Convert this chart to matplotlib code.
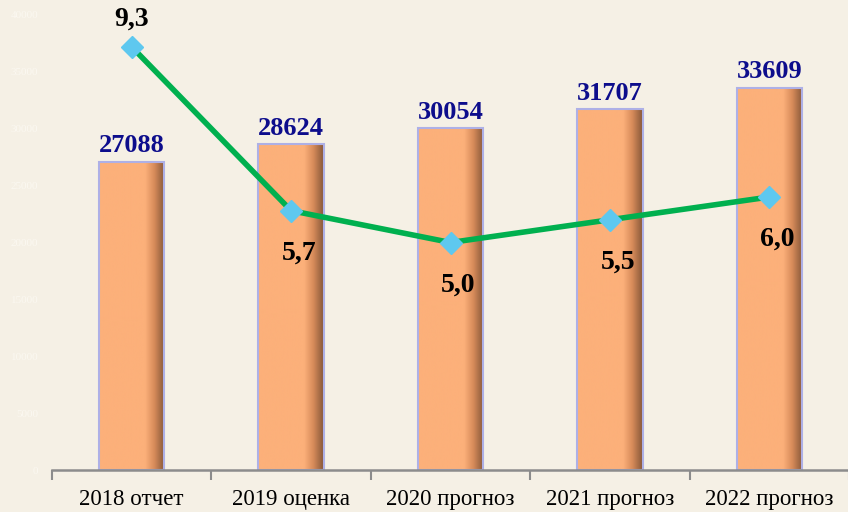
import numpy as np
import matplotlib
matplotlib.use("Agg")
import matplotlib.pyplot as plt
from matplotlib.colors import LinearSegmentedColormap

categories = ["2018 отчет", "2019 оценка", "2020 прогноз", "2021 прогноз", "2022 прогноз"]
amounts = [27088, 28624, 30054, 31707, 33609]
growth = [9.3, 5.7, 5.0, 5.5, 6.0]
growth_labels = ["9,3", "5,7", "5,0", "5,5", "6,0"]

bg = "#f5f0e5"
fig = plt.figure(figsize=(8.48, 5.12), dpi=100, facecolor=bg)
ax = fig.add_axes([52 / 848, 42 / 512, 797 / 848, 455 / 512])
ax.set_facecolor(bg)

x = np.arange(len(categories))
width = 0.41

# peach bar with darker brown shading on the right edge
shade = LinearSegmentedColormap.from_list(
    "shade", [(0, "#fcb07a"), (0.7, "#fcb07a"), (0.84, "#d88c5a"), (1.0, "#86573a")])
grad = np.linspace(0, 1, 200).reshape(1, -1)
bars = ax.bar(x, amounts, width, color="none", edgecolor="#aeb0e6", linewidth=1.5, zorder=2)
for b in bars:
    x0, y0 = b.get_x(), b.get_y()
    im = ax.imshow(grad, cmap=shade, aspect="auto", zorder=1.5,
                   extent=[x0, x0 + b.get_width(), y0, y0 + b.get_height()])
    im.set_clip_path(b)

for xi, v in zip(x, amounts):
    ax.text(xi, v + 400, str(v), ha="center", va="bottom", color="#0d0d8c",
            fontsize=19, fontweight="bold", family="Liberation Serif", zorder=5)

ax.set_xlim(-0.5, 4.5)
ax.set_ylim(0, 40000)
ax.set_yticks(np.arange(0, 40001, 5000))
ax.tick_params(axis="y", length=0, labelsize=8, labelcolor="#fbf8f1", pad=10)
for lbl in ax.get_yticklabels():
    lbl.set_family("Liberation Serif")

ax.set_xticks(x)
ax.set_xticklabels(categories, fontsize=16.5, family="Liberation Serif")
ax.set_xticks(np.arange(-0.5, 4.6, 1), minor=True)
ax.tick_params(axis="x", which="major", length=0, pad=14)
ax.tick_params(axis="x", which="minor", length=7, width=1.5, color="#8c8c8c", direction="out")

for s in ["top", "right", "left"]:
    ax.spines[s].set_visible(False)
ax.spines["bottom"].set_color("#8c8c8c")
ax.spines["bottom"].set_linewidth(1.8)

ax2 = ax.twinx()
ax2.set_ylim(0, 10)
ax2.axis("off")
ax2.plot(x, growth, color="#00b04f", linewidth=4, marker="D", markersize=11,
         markerfacecolor="#5ec8ef", markeredgecolor="#5ec8ef", zorder=4)

for i, (xi, v, t) in enumerate(zip(x, growth, growth_labels)):
    if i == 0:
        ax2.text(xi, v + 0.6, t, ha="center", va="center", fontsize=20,
                 fontweight="bold", family="Liberation Serif", color="black")
    else:
        ax2.text(xi + 0.05, v - 0.93, t, ha="center", va="center", fontsize=20,
                 fontweight="bold", family="Liberation Serif", color="black")

fig.savefig("out.png", dpi=100, facecolor=bg)
